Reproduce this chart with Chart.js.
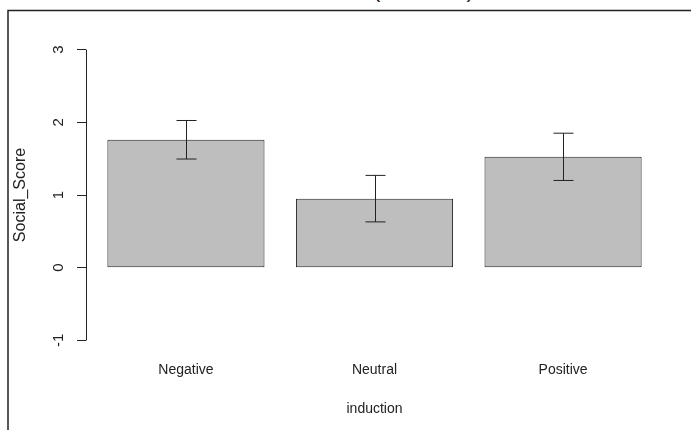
<!DOCTYPE html>
<html>
<head>
<meta charset="utf-8">
<script src="https://cdn.jsdelivr.net/npm/chart.js@4"></script>
<style>
  html, body { margin: 0; padding: 0; background: #fff; overflow: hidden; }
  #wrap { position: relative; width: 691px; height: 430px; }
  #cut-title {
    position: absolute; left: 33px; top: -23px;
    font: 22px "Liberation Sans", Arial, sans-serif; color: #222; white-space: nowrap;
  }
  canvas { position: absolute; left: 0; top: 0; }
</style>
</head>
<body>
<div id="wrap">
  <div id="cut-title">Social Attention Across Conditions (n = 1000)</div>
  <canvas id="chart" width="691" height="430"></canvas>
</div>
<script>
// Data
const categories = ['Negative', 'Neutral', 'Positive'];
const means = [1.76, 0.95, 1.525];
const sems = [0.265, 0.32, 0.325];
const yTicks = [-1, 0, 1, 2, 3];

const FONT = '"Liberation Sans", Arial, sans-serif';
const INK = '#222';

// Error bars drawn at each bar from the y scale
const errorBars = {
  id: 'errorBars',
  afterDatasetsDraw(chart) {
    const ctx = chart.ctx;
    const meta = chart.getDatasetMeta(0);
    const y = chart.scales.y;
    ctx.save();
    ctx.strokeStyle = INK;
    ctx.lineWidth = 1;
    meta.data.forEach((bar, i) => {
      const x = Math.round(bar.x) + 0.5;
      const top = y.getPixelForValue(means[i] + sems[i]);
      const bot = y.getPixelForValue(means[i] - sems[i]);
      ctx.beginPath();
      ctx.moveTo(x, top); ctx.lineTo(x, bot);
      ctx.moveTo(x - 10, top); ctx.lineTo(x + 10, top);
      ctx.moveTo(x - 10, bot); ctx.lineTo(x + 10, bot);
      ctx.stroke();
    });
    ctx.restore();
  }
};

// R-style y axis line (only between first and last tick) and the outer frame
const axisAndFrame = {
  id: 'axisAndFrame',
  afterDraw(chart) {
    const ctx = chart.ctx;
    const y = chart.scales.y;
    const x0 = Math.round(chart.chartArea.left) + 0.5;
    ctx.save();
    ctx.strokeStyle = INK;
    ctx.lineWidth = 1;
    ctx.beginPath();
    ctx.moveTo(x0, y.getPixelForValue(yTicks[0]));
    ctx.lineTo(x0, y.getPixelForValue(yTicks[yTicks.length - 1]));
    ctx.stroke();

    ctx.lineWidth = 1.5;
    ctx.beginPath();
    ctx.moveTo(8, 430);
    ctx.lineTo(8, 10.5);
    ctx.lineTo(691, 10.5);
    ctx.stroke();
    ctx.restore();
  }
};

new Chart(document.getElementById('chart'), {
  type: 'bar',
  data: {
    datasets: [{
      data: means.map((v, i) => ({ x: i, y: v })),
      backgroundColor: '#bebebe',
      borderColor: INK,
      borderWidth: 1,
      borderSkipped: false,
      barPercentage: 1,
      categoryPercentage: 0.8333
    }]
  },
  options: {
    responsive: false,
    animation: false,
    layout: { padding: { left: 0, right: 28, top: 38, bottom: 0 } },
    plugins: {
      legend: { display: false },
      tooltip: { enabled: false }
    },
    scales: {
      x: {
        type: 'linear',
        offset: false,
        min: -0.53,
        max: 2.53,
        afterBuildTicks: s => { s.ticks = categories.map((c, i) => ({ value: i })); },
        afterFit: s => { s.height = 78; },
        grid: { display: false, drawTicks: false },
        border: { display: false },
        ticks: {
          padding: 10,
          color: INK,
          font: { family: FONT, size: 14 },
          callback: v => categories[v]
        },
        title: {
          display: true,
          text: 'induction',
          color: INK,
          font: { family: FONT, size: 14 },
          padding: { top: 0, bottom: 12 }
        }
      },
      y: {
        min: -1.16,
        max: 3.16,
        afterBuildTicks: s => { s.ticks = yTicks.map(v => ({ value: v })); },
        afterFit: s => { s.width = 86; },
        grid: {
          drawOnChartArea: false,
          drawTicks: true,
          tickLength: 9,
          color: INK
        },
        border: { display: false },
        ticks: {
          minRotation: 90,
          maxRotation: 90,
          crossAlign: 'center',
          padding: 11,
          color: INK,
          font: { family: FONT, size: 15 }
        },
        title: {
          display: true,
          text: 'Social_Score',
          color: INK,
          font: { family: FONT, size: 16 },
          padding: { top: 11, bottom: 0 }
        }
      }
    }
  },
  plugins: [errorBars, axisAndFrame]
});
</script>
</body>
</html>
